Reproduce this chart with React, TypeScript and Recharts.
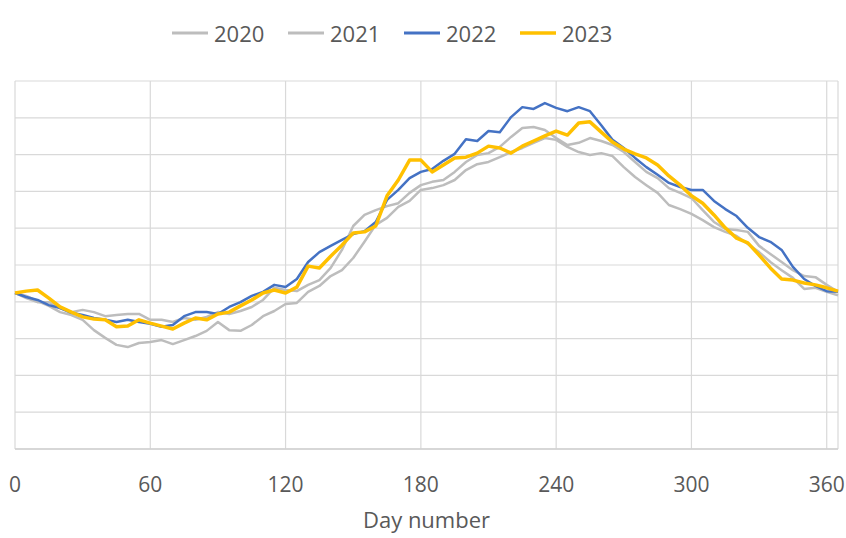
import React from 'react';
import { LineChart, Line, XAxis, YAxis, CartesianGrid, Legend } from 'recharts';

const days = [
  0, 5, 10, 15, 20, 25, 30, 35, 40, 45,
  50, 55, 60, 65, 70, 75, 80, 85, 90, 95,
  100, 105, 110, 115, 120, 125, 130, 135, 140, 145,
  150, 155, 160, 165, 170, 175, 180, 185, 190, 195,
  200, 205, 210, 215, 220, 225, 230, 235, 240, 245,
  250, 255, 260, 265, 270, 275, 280, 285, 290, 295,
  300, 305, 310, 315, 320, 325, 330, 335, 340, 345,
  350, 355, 360, 365,
];

const y2020 = [
  4.24, 4.10, 3.99, 3.99, 3.83, 3.72, 3.78, 3.72, 3.61, 3.64,
  3.67, 3.67, 3.51, 3.51, 3.45, 3.56, 3.51, 3.59, 3.72, 3.67,
  3.75, 3.86, 4.05, 4.38, 4.32, 4.29, 4.46, 4.59, 4.92, 5.41,
  6.06, 6.36, 6.49, 6.60, 6.68, 6.96, 7.17, 7.26, 7.31, 7.53,
  7.80, 7.99, 8.04, 8.21, 8.48, 8.72, 8.75, 8.67, 8.45, 8.26,
  8.32, 8.45, 8.37, 8.26, 8.07, 7.80, 7.53, 7.36, 7.09, 6.96,
  6.82, 6.49, 6.17, 5.98, 5.95, 5.90, 5.52, 5.30, 5.08, 4.86,
  4.70, 4.67, 4.46, 4.27,
];

const y2021 = [
  4.24, 4.16, 4.02, 3.89, 3.72, 3.64, 3.51, 3.23, 3.02, 2.83,
  2.77, 2.88, 2.91, 2.96, 2.85, 2.96, 3.07, 3.21, 3.45, 3.23,
  3.21, 3.37, 3.61, 3.75, 3.94, 3.97, 4.27, 4.43, 4.70, 4.86,
  5.19, 5.63, 6.09, 6.28, 6.58, 6.74, 7.04, 7.09, 7.17, 7.31,
  7.58, 7.74, 7.80, 7.93, 8.07, 8.18, 8.32, 8.45, 8.40, 8.21,
  8.07, 7.99, 8.04, 7.96, 7.66, 7.39, 7.17, 6.96, 6.63, 6.52,
  6.39, 6.22, 6.03, 5.90, 5.79, 5.57, 5.35, 5.08, 4.86, 4.65,
  4.35, 4.38, 4.27, 4.18,
];

const y2022 = [
  4.24, 4.13, 4.05, 3.91, 3.83, 3.70, 3.64, 3.56, 3.51, 3.45,
  3.51, 3.45, 3.40, 3.32, 3.37, 3.61, 3.72, 3.72, 3.67, 3.86,
  3.99, 4.16, 4.27, 4.46, 4.40, 4.62, 5.08, 5.35, 5.52, 5.68,
  5.84, 5.92, 6.17, 6.77, 7.04, 7.36, 7.53, 7.61, 7.83, 8.02,
  8.42, 8.37, 8.64, 8.61, 9.02, 9.29, 9.24, 9.40, 9.27, 9.18,
  9.29, 9.18, 8.80, 8.40, 8.18, 7.91, 7.66, 7.45, 7.23, 7.12,
  7.04, 7.04, 6.74, 6.52, 6.33, 6.01, 5.76, 5.63, 5.41, 4.95,
  4.62, 4.43, 4.29, 4.27,
];

const y2023 = [
  4.24, 4.29, 4.32, 4.10, 3.86, 3.72, 3.59, 3.53, 3.51, 3.32,
  3.34, 3.51, 3.42, 3.34, 3.26, 3.42, 3.56, 3.51, 3.67, 3.72,
  3.89, 4.05, 4.24, 4.32, 4.24, 4.40, 4.97, 4.92, 5.24, 5.54,
  5.87, 5.90, 6.06, 6.88, 7.31, 7.85, 7.85, 7.53, 7.72, 7.91,
  7.93, 8.04, 8.23, 8.18, 8.04, 8.23, 8.37, 8.51, 8.64, 8.53,
  8.86, 8.89, 8.61, 8.34, 8.15, 8.02, 7.91, 7.72, 7.42, 7.17,
  6.88, 6.68, 6.36, 6.01, 5.73, 5.60, 5.27, 4.92, 4.62, 4.59,
  4.51, 4.46, 4.38, 4.29,
];

const seriesNames = ['2020', '2021', '2022', '2023'];
const seriesValues = [y2020, y2021, y2022, y2023];
const seriesColors = ['#BDBDBD', '#BDBDBD', '#4472C4', '#FFC000'];
const seriesWidths = [2.5, 2.5, 2.5, 3.5];

const xTicks = [0, 60, 120, 180, 240, 300, 360];
const yTicks = [0, 1, 2, 3, 4, 5, 6, 7, 8, 9, 10];
const xTitle = 'Day number';

const data = days.map((d, i) => {
  const row: Record<string, number> = { day: d };
  seriesNames.forEach((n, k) => {
    row[n] = seriesValues[k][i];
  });
  return row;
});

const FONT = '"Open Sans", sans-serif';

function LegendContent() {
  return (
    <div style={{ display: 'flex', flexDirection: 'row', height: 36, alignItems: 'center', fontFamily: FONT }}>
      {seriesNames.map((n, k) => (
        <div key={n} style={{ display: 'flex', alignItems: 'center', width: 116 }}>
          <svg width={36} height={10} style={{ display: 'block' }}>
            <line x1={0} y1={5} x2={36} y2={5} stroke={seriesColors[k]} strokeWidth={k === 3 ? 3.5 : 3} />
          </svg>
          <span style={{ marginLeft: 6, fontSize: 22, color: '#595959', lineHeight: '36px' }}>{n}</span>
        </div>
      ))}
    </div>
  );
}

export default function App() {
  return (
    <div style={{ position: 'absolute', left: 0, top: 0, width: 846, height: 538, background: '#ffffff', fontFamily: FONT }}>
      <LineChart width={846} height={538} data={data} margin={{ top: 45, right: 8, left: 15, bottom: 0 }}>
        <CartesianGrid stroke="#D9D9D9" strokeWidth={1.2} />
        <XAxis
          dataKey="day"
          type="number"
          domain={[0, 365]}
          ticks={xTicks}
          interval={0}
          tickLine={false}
          axisLine={{ stroke: '#D0D0D0', strokeWidth: 1.5 }}
          height={89}
          tickMargin={22}
          tick={{ fontSize: 21, fill: '#595959', fontFamily: FONT }}
          label={{ value: xTitle, position: 'insideBottom', offset: 10, fontSize: 22, fill: '#595959', fontFamily: FONT }}
        />
        <YAxis hide domain={[0, 10]} ticks={yTicks} type="number" />
        <Legend verticalAlign="top" align="left" height={36} wrapperStyle={{ top: 15, left: 172, width: 480 }} content={<LegendContent />} />
        {seriesNames.map((n, k) => (
          <Line
            key={n}
            type="linear"
            dataKey={n}
            stroke={seriesColors[k]}
            strokeWidth={seriesWidths[k]}
            dot={false}
            strokeLinejoin="round"
            isAnimationActive={false}
          />
        ))}
      </LineChart>
    </div>
  );
}
